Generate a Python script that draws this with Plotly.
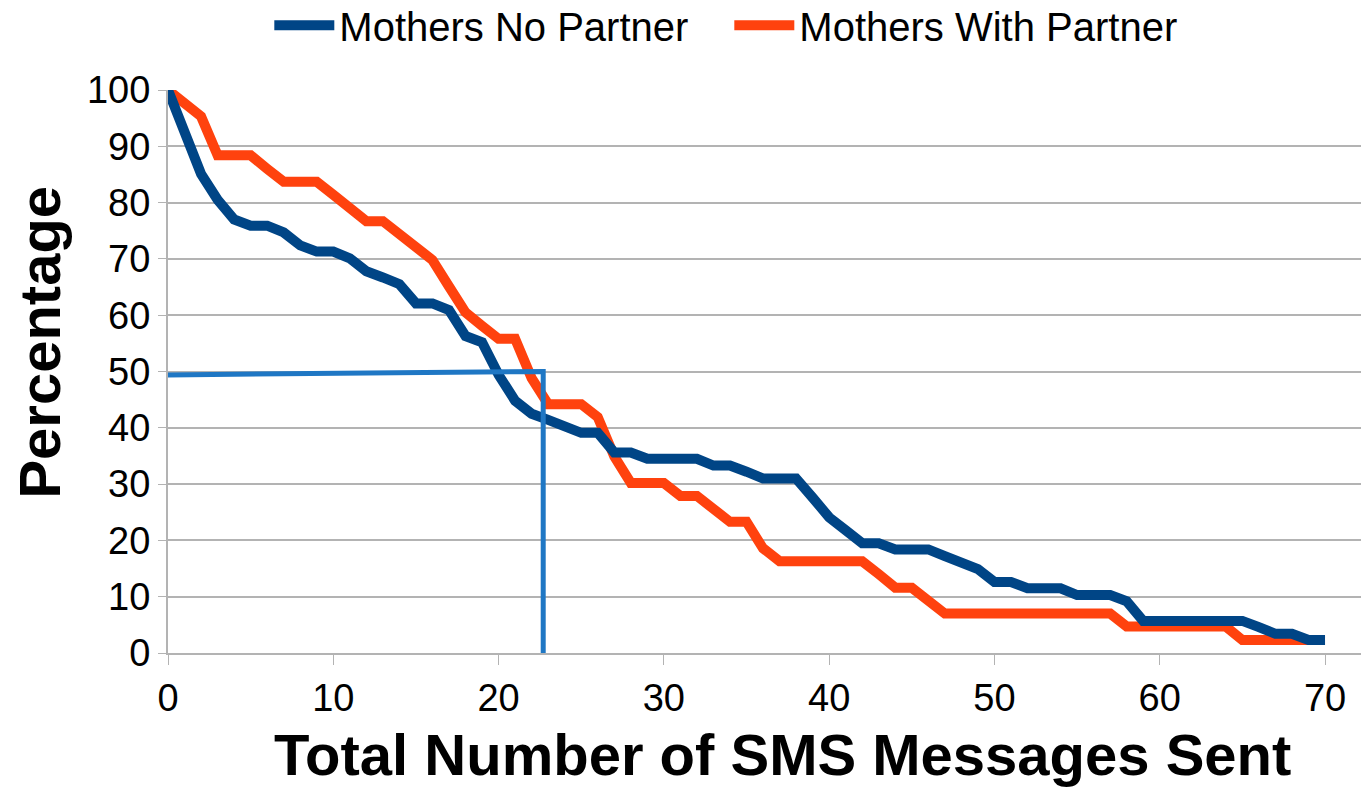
import plotly.graph_objects as go

# %%
# survival-style curves, percentage of mothers still sending at each count
sms_sent = list(range(0, 71))

no_partner = [100, 92.0, 85.1, 80.5, 77.0, 75.9, 75.9, 74.7, 72.4, 71.3,
              71.3, 70.1, 67.8, 66.7, 65.5, 62.1, 62.1, 60.9, 56.3, 55.2,
              49.4, 44.8, 42.5, 41.4, 40.2, 39.1, 39.1, 35.6, 35.6, 34.5,
              34.5, 34.5, 34.5, 33.3, 33.3, 32.2, 31.0, 31.0, 31.0, 27.6,
              24.1, 21.8, 19.5, 19.5, 18.4, 18.4, 18.4, 17.2, 16.1, 14.9,
              12.6, 12.6, 11.5, 11.5, 11.5, 10.3, 10.3, 10.3, 9.2, 5.7,
              5.7, 5.7, 5.7, 5.7, 5.7, 5.7, 4.6, 3.4, 3.4, 2.3,
              2.3]

with_partner = [100, 97.7, 95.3, 88.4, 88.4, 88.4, 86.0, 83.7, 83.7, 83.7,
                81.4, 79.1, 76.7, 76.7, 74.4, 72.1, 69.8, 65.1, 60.5, 58.1,
                55.8, 55.8, 48.8, 44.2, 44.2, 44.2, 41.9, 34.9, 30.2, 30.2,
                30.2, 27.9, 27.9, 25.6, 23.3, 23.3, 18.6, 16.3, 16.3, 16.3,
                16.3, 16.3, 16.3, 14.0, 11.6, 11.6, 9.3, 7.0, 7.0, 7.0,
                7.0, 7.0, 7.0, 7.0, 7.0, 7.0, 7.0, 7.0, 4.7, 4.7,
                4.7, 4.7, 4.7, 4.7, 4.7, 2.3, 2.3, 2.3, 2.3, 2.3,
                2.3]

# median marker (50% line)
median_x = [0, 22.7, 22.7]
median_y = [49.4, 50.0, 0]

# %%
fig = go.Figure()

fig.add_trace(go.Scatter(x=sms_sent, y=with_partner, mode="lines",
                         line=dict(color="#ff420e", width=10),
                         name="Mothers With Partner", legendrank=2))
fig.add_trace(go.Scatter(x=sms_sent, y=no_partner, mode="lines",
                         line=dict(color="#004586", width=10),
                         name="Mothers No Partner", legendrank=1))
fig.add_trace(go.Scatter(x=median_x, y=median_y, mode="lines",
                         line=dict(color="#1f77c4", width=5),
                         showlegend=False, hoverinfo="skip"))

# page body has an 8px margin, so the figure is a bit smaller than the window
fig.update_layout(
    width=1361, height=779,
    margin=dict(l=160, r=1, t=82, b=134),
    paper_bgcolor="white", plot_bgcolor="white",
    font=dict(family="Liberation Sans, Arial, sans-serif", color="black"),
    legend=dict(orientation="h", xref="container", x=0.192, xanchor="left",
                yref="container", y=0.978, yanchor="middle",
                font=dict(size=40), itemwidth=60, entrywidth=385,
                traceorder="normal"),
    showlegend=True,
)

fig.update_xaxes(range=[0, 72.6], tickvals=[0, 10, 20, 30, 40, 50, 60, 70],
                 showgrid=False, zeroline=False,
                 showline=True, linecolor="#b3b3b3", linewidth=2,
                 ticks="outside", ticklen=10, tickcolor="#b3b3b3",
                 tickfont=dict(size=38))
fig.update_yaxes(range=[0, 100], dtick=10,
                 showgrid=True, gridcolor="#b3b3b3", gridwidth=1.5,
                 zeroline=False,
                 showline=True, linecolor="#b3b3b3", linewidth=2,
                 ticks="outside", ticklen=8, tickcolor="#b3b3b3",
                 tickfont=dict(size=38))

fig.add_annotation(text="<b>Total Number of SMS Messages Sent</b>",
                   xref="paper", yref="paper", x=0.512, y=-0.18,
                   xanchor="center", yanchor="middle", showarrow=False,
                   font=dict(size=58))
fig.add_annotation(text="<b>Percentage</b>", textangle=-90,
                   xref="paper", yref="paper", x=-0.1067, y=0.553,
                   xanchor="center", yanchor="middle", showarrow=False,
                   font=dict(size=58))

fig.write_html("out.html")
